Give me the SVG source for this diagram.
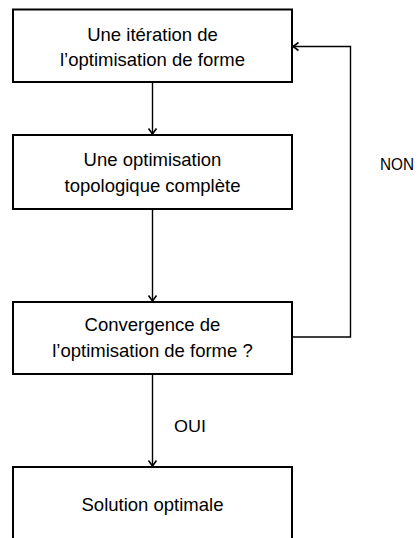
<svg xmlns="http://www.w3.org/2000/svg" width="419" height="538" viewBox="0 0 419 538">
<defs>
<marker id="arr" viewBox="0 0 12 12" refX="11" refY="6" markerWidth="12" markerHeight="12" markerUnits="userSpaceOnUse" orient="auto">
<path d="M5.5,2 L11,6 L5.5,10" fill="none" stroke="#000" stroke-width="1.6"/>
</marker>
<style>
.box{fill:#fff;stroke:#000;stroke-width:2}
.t{font-family:"Liberation Sans",Arial,sans-serif;font-size:18.5px;fill:#000;text-anchor:middle}
.l{font-family:"Liberation Sans",Arial,sans-serif;font-size:17px;fill:#000}
.c{fill:none;stroke:#000;stroke-width:1.4;marker-end:url(#arr)}
</style>
</defs>
<rect width="419" height="538" fill="#fff"/>
<g id="connectors">
<path class="c" d="M152.5,82 V134"/>
<path class="c" d="M152.5,209 V301"/>
<path class="c" d="M152.5,374 V466"/>
<path class="c" d="M292,337 H350.5 V46.5 H293"/>
</g>
<g id="n1">
<rect class="box" x="13" y="9.5" width="279" height="72.5"/>
<text class="t" x="152.5" y="40.5">Une itération de</text>
<text class="t" x="152.5" y="66">l’optimisation de forme</text>
</g>
<g id="n2">
<rect class="box" x="13" y="135" width="279" height="74"/>
<text class="t" x="152.5" y="166">Une optimisation</text>
<text class="t" x="152.5" y="191.5">topologique complète</text>
</g>
<g id="n3">
<rect class="box" x="13" y="302" width="279" height="72"/>
<text class="t" x="152.5" y="330.5">Convergence de</text>
<text class="t" x="152.5" y="357">l’optimisation de forme ?</text>
</g>
<g id="n4">
<rect class="box" x="13" y="467" width="279" height="80"/>
<text class="t" x="152.5" y="511">Solution optimale</text>
</g>
<g id="labels">
<text class="l" x="380" y="170" textLength="34" lengthAdjust="spacingAndGlyphs">NON</text>
<text class="l" x="174" y="431.5" textLength="32" lengthAdjust="spacingAndGlyphs">OUI</text>
</g>
</svg>
